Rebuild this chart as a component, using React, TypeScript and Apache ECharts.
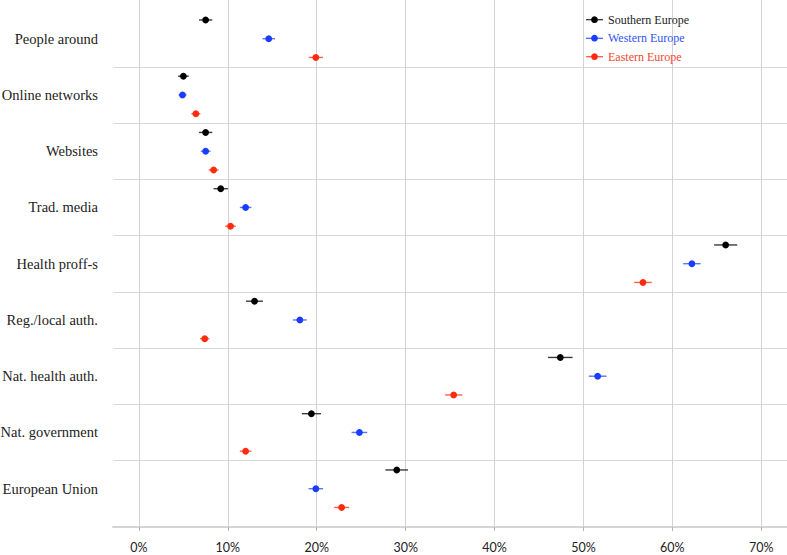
import React, { useEffect, useRef } from "react";
import * as echarts from "echarts";

const categories = [
  "People around",
  "Online networks",
  "Websites",
  "Trad. media",
  "Health proff-s",
  "Reg./local auth.",
  "Nat. health auth.",
  "Nat. government",
  "European Union",
];

const regions = ["Southern Europe", "Western Europe", "Eastern Europe"];

const southern = [7.5, 5.0, 7.5, 9.2, 66.0, 13.0, 47.4, 19.4, 29.0];
const western = [14.6, 4.9, 7.5, 12.0, 62.2, 18.1, 51.6, 24.8, 19.9];
const eastern = [19.9, 6.4, 8.4, 10.3, 56.7, 7.4, 35.4, 12.0, 22.8];

const southernErr = [0.75, 0.6, 0.75, 0.8, 1.3, 0.95, 1.38, 1.07, 1.27];
const westernErr = [0.7, 0.45, 0.55, 0.65, 0.98, 0.78, 1.0, 0.88, 0.82];
const easternErr = [0.8, 0.5, 0.55, 0.6, 0.99, 0.52, 0.96, 0.65, 0.84];

const xTicks = [0, 10, 20, 30, 40, 50, 60, 70];

const pointColors = ["#000000", "#1a3cff", "#ff2b0f"];
const barColors = ["#3a3a3a", "#5a75ff", "#ff6048"];
const legendTextColors = ["#222222", "#2f55f5", "#f04a35"];
const offsets = [-1 / 3, 0, 1 / 3];

const SERIF = '"Liberation Serif", "Times New Roman", serif';

export default function App() {
  const ref = useRef<HTMLDivElement>(null);

  useEffect(() => {
    if (!ref.current) return;
    const chart = echarts.init(ref.current, null, { renderer: "svg" });

    const values = [southern, western, eastern];
    const errs = [southernErr, westernErr, easternErr];

    const series = regions.map((name, s) => ({
      type: "custom" as const,
      name,
      clip: false,
      itemStyle: { color: pointColors[s] },
      encode: { x: 0, y: 1 },
      data: values[s].map((v, i) => [v, i, errs[s][i]]),
      renderItem: (params: any, api: any) => {
        const v = api.value(0);
        const idx = api.value(1);
        const e = api.value(2);
        const c = api.coord([v, idx]);
        const band = api.size([0, 1])[1];
        const y = c[1] + offsets[s] * band;
        const x1 = api.coord([v - e, idx])[0];
        const x2 = api.coord([v + e, idx])[0];
        return {
          type: "group",
          children: [
            {
              type: "line",
              shape: { x1, y1: y, x2, y2: y },
              style: { stroke: barColors[s], lineWidth: 1.4 },
            },
            {
              type: "circle",
              shape: { cx: c[0], cy: y, r: 3.4 },
              style: { fill: pointColors[s] },
            },
          ],
        };
      },
    }));

    const legendIcon =
      "path://M0,3 H17 V4 H0 Z M8.5,0.1 A3.4,3.4 0 1,1 8.49,0.1 Z";

    chart.setOption({
      animation: false,
      backgroundColor: "#ffffff",
      grid: {
        left: 113,
        right: 0,
        top: 0,
        bottom: 28,
        containLabel: false,
        outerBoundsMode: "none",
      },
      legend: {
        orient: "vertical",
        left: 586,
        top: 12.7,
        padding: 0,
        itemWidth: 17,
        itemHeight: 7,
        itemGap: 4.5,
        icon: legendIcon,
        textStyle: { fontFamily: SERIF, fontSize: 12, lineHeight: 14 },
        data: regions.map((name, s) => ({
          name,
          textStyle: { color: legendTextColors[s] },
        })),
      },
      xAxis: {
        type: "value",
        min: -2.92,
        max: 72.9,
        axisLine: {
          show: true,
          onZero: false,
          lineStyle: { color: "#d4d4d4", width: 2 },
        },
        axisTick: {
          show: true,
          length: 4,
          customValues: xTicks,
          lineStyle: { color: "#b5b5b5", width: 1 },
        },
        axisLabel: {
          customValues: xTicks,
          formatter: (v: number) => `${v}%`,
          margin: 14,
          color: "#222222",
          fontFamily: "Lato, sans-serif",
          fontSize: 12.5,
          lineHeight: 13,
        },
        splitLine: { show: true, lineStyle: { color: "#d3d3d3", width: 1 } },
      },
      yAxis: {
        type: "value",
        inverse: true,
        min: -0.688,
        max: 8.681,
        axisLine: { show: false, onZero: false },
        axisTick: {
          show: false,
          customValues: categories.slice(1).map((_, i) => i + 0.5),
        },
        axisLabel: {
          customValues: categories.map((_, i) => i),
          formatter: (v: number) => categories[Math.round(v)] ?? "",
          margin: 15,
          color: "#222222",
          fontFamily: SERIF,
          fontSize: 14.5,
        },
        splitLine: { show: true, lineStyle: { color: "#d8d8d8", width: 1 } },
      },
      series,
    });

    return () => chart.dispose();
  }, []);

  return (
    <div
      ref={ref}
      style={{ position: "fixed", left: 0, top: 0, width: 787, height: 555 }}
    />
  );
}
